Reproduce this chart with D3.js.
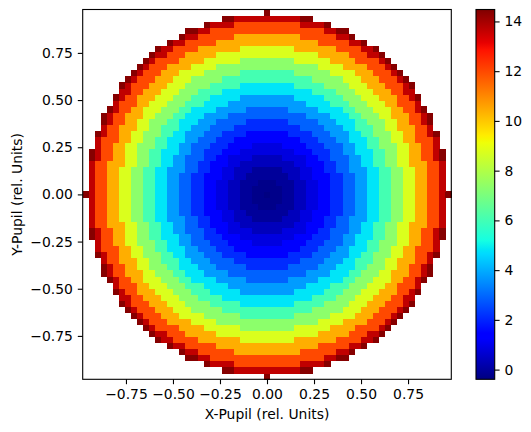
<!DOCTYPE html>
<html>
<head>
<meta charset="utf-8">
<script src="https://cdn.jsdelivr.net/npm/d3@7"></script>
<style>
  body { margin: 0; background: #fff; }
  svg { display: block; font-family: "DejaVu Sans", sans-serif; }
</style>
</head>
<body>
<div id="chart"></div>
<script>
// pupil map: value per ring index along the centre row
var ringValues = [-0.36, -0.26, -0.26, -0.05, -0.05, 0.38, 0.38, 0.85, 0.85,
    1.4, 1.4, 2.1, 2.1, 2.9, 2.9, 3.75, 3.75, 4.8, 4.8, 6.05, 6.05,
    7.35, 7.35, 8.75, 8.75, 10.4, 10.4, 12.0, 12.0, 13.65, 14.4];
var nCells = 61;          // cells across the pupil
var pupilExtent = 0.98;   // half width of the image in pupil units
var colorMin = -0.39, colorMax = 14.48;
var axisTicks = [-0.75, -0.5, -0.25, 0, 0.25, 0.5, 0.75];
var colorTicks = [0, 2, 4, 6, 8, 10, 12, 14];

var svg = d3.select("#chart").append("svg")
    .attr("width", 531)
    .attr("height", 432);

var plot = {left: 82.7, right: 451.3, top: 9.5, bottom: 379.3};

var x = d3.scaleLinear()
    .domain([-pupilExtent, pupilExtent])
    .range([plot.left, plot.right]);
var y = d3.scaleLinear()
    .domain([-pupilExtent, pupilExtent])
    .range([plot.bottom, plot.top]);

// matplotlib "jet"
function jet(t) {
    t = Math.max(0, Math.min(1, t));
    function seg(pts) {
        for (var i = 1; i < pts.length; i++) {
            if (t <= pts[i][0]) {
                var a = pts[i - 1], b = pts[i];
                return a[1] + (b[1] - a[1]) * (t - a[0]) / (b[0] - a[0]);
            }
        }
        return pts[pts.length - 1][1];
    }
    var r = seg([[0, 0], [0.35, 0], [0.66, 1], [0.89, 1], [1, 0.5]]);
    var g = seg([[0, 0], [0.125, 0], [0.375, 1], [0.64, 1], [0.91, 0], [1, 0]]);
    var b = seg([[0, 0.5], [0.11, 1], [0.34, 1], [0.65, 0], [1, 0]]);
    return d3.rgb(r * 255, g * 255, b * 255).toString();
}
var color = d3.scaleSequential(jet).domain([colorMin, colorMax]);

// build the cells of the pupil
var half = (nCells - 1) / 2;
var step = 2 * pupilExtent / nCells;
var cells = [];
for (var j = -half; j <= half; j++) {
    for (var i = -half; i <= half; i++) {
        var dist = Math.sqrt(i * i + j * j);
        if (dist > half) continue;
        cells.push({px: i * step, py: j * step, value: ringValues[Math.round(dist)]});
    }
}

svg.append("g")
    .attr("class", "cells")
    .attr("shape-rendering", "crispEdges")
    .selectAll("rect")
    .data(cells)
    .enter().append("rect")
    .attr("x", function (d) { return x(d.px - step / 2); })
    .attr("y", function (d) { return y(d.py + step / 2); })
    .attr("width", x(step) - x(0) + 0.3)
    .attr("height", y(0) - y(step) + 0.3)
    .attr("fill", function (d) { return color(d.value); });

var fmt = d3.format(".2f");

svg.append("g")
    .attr("class", "axis axis--x")
    .attr("transform", "translate(0," + plot.bottom + ")")
    .call(d3.axisBottom(x).tickValues(axisTicks).tickFormat(fmt).tickSize(4.9).tickPadding(4.9).tickSizeOuter(0));

svg.append("g")
    .attr("class", "axis axis--y")
    .attr("transform", "translate(" + plot.left + ",0)")
    .call(d3.axisLeft(y).tickValues(axisTicks).tickFormat(fmt).tickSize(4.9).tickPadding(4.9).tickSizeOuter(0));

svg.selectAll(".axis .domain").remove();
svg.selectAll(".axis text").attr("font-size", 13.9).attr("fill", "#000")
    .attr("font-family", "DejaVu Sans");
svg.selectAll(".axis line").attr("stroke", "#000").attr("stroke-width", 1.1);

svg.append("rect")
    .attr("x", plot.left)
    .attr("y", plot.top)
    .attr("width", plot.right - plot.left)
    .attr("height", plot.bottom - plot.top)
    .attr("fill", "none")
    .attr("stroke", "#000")
    .attr("stroke-width", 1.1);

svg.append("text")
    .attr("x", (plot.left + plot.right) / 2)
    .attr("y", 419)
    .attr("text-anchor", "middle")
    .attr("font-size", 13.9)
    .text("X-Pupil (rel. Units)");

svg.append("text")
    .attr("transform", "translate(21.8," + (plot.top + plot.bottom) / 2 + ") rotate(-90)")
    .attr("text-anchor", "middle")
    .attr("font-size", 13.9)
    .text("Y-Pupil (rel. Units)");

// colorbar
var cb = {left: 476, right: 494.7};
var cy = d3.scaleLinear()
    .domain([colorMin, colorMax])
    .range([plot.bottom, plot.top]);

var grad = svg.append("defs").append("linearGradient")
    .attr("id", "jetgrad")
    .attr("x1", 0).attr("y1", 1).attr("x2", 0).attr("y2", 0);
var stops = [0, 0.11, 0.125, 0.34, 0.35, 0.375, 0.64, 0.65, 0.66, 0.89, 0.91, 1];
grad.selectAll("stop")
    .data(stops)
    .enter().append("stop")
    .attr("offset", function (d) { return d; })
    .attr("stop-color", function (d) { return jet(d); });

svg.append("rect")
    .attr("x", cb.left)
    .attr("y", plot.top)
    .attr("width", cb.right - cb.left)
    .attr("height", plot.bottom - plot.top)
    .attr("fill", "url(#jetgrad)")
    .attr("stroke", "#000")
    .attr("stroke-width", 1.1);

svg.append("g")
    .attr("class", "axis axis--cb")
    .attr("transform", "translate(" + cb.right + ",0)")
    .call(d3.axisRight(cy).tickValues(colorTicks).tickFormat(d3.format("d")).tickSize(4.9).tickPadding(4.9).tickSizeOuter(0));

svg.selectAll(".axis--cb .domain").remove();
svg.selectAll(".axis--cb text").attr("font-size", 13.9).attr("fill", "#000")
    .attr("font-family", "DejaVu Sans");
svg.selectAll(".axis--cb line").attr("stroke", "#000").attr("stroke-width", 1.1);
</script>
</body>
</html>
